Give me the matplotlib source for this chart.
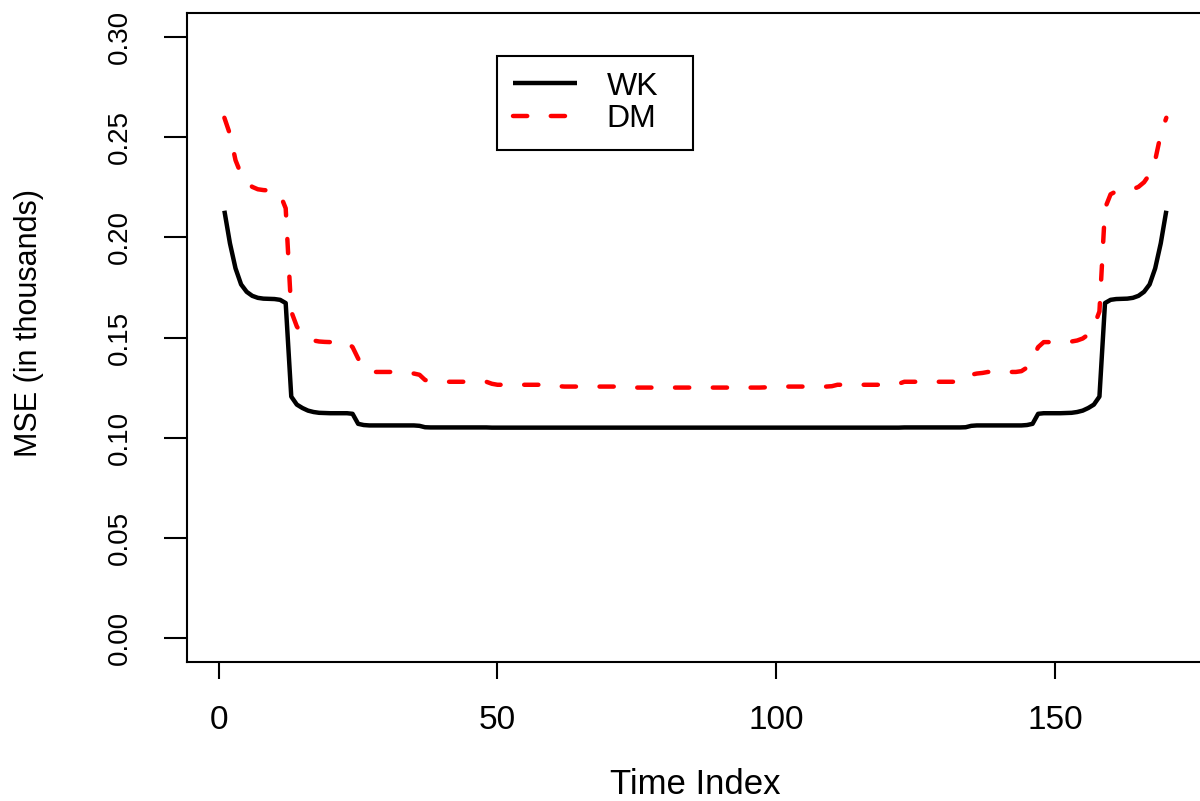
import matplotlib
matplotlib.use("Agg")
import matplotlib.pyplot as plt

plt.rcParams['font.family'] = ['Liberation Sans', 'DejaVu Sans']

# ---------------- data ----------------
time_index = list(range(1, 171))

wk = [
    0.2133, 0.1970, 0.1845, 0.1765, 0.1728, 0.1708, 0.1698, 0.1694, 0.1693, 0.1692, 0.1688, 0.1672,
    0.1205, 0.1165, 0.1148, 0.1135, 0.1128, 0.1124, 0.1123, 0.1122, 0.1122, 0.1122, 0.1122, 0.1119,
    0.1069, 0.1063, 0.1061, 0.1061, 0.1061, 0.1061, 0.1061, 0.1061, 0.1061, 0.1061, 0.1061, 0.1059,
    0.1052, 0.1051, 0.1051, 0.1051, 0.1051, 0.1051, 0.1051, 0.1051, 0.1051, 0.1051, 0.1051, 0.1051,
    0.1050, 0.1050, 0.1050, 0.1050, 0.1050, 0.1050, 0.1050, 0.1050, 0.1050, 0.1050, 0.1050, 0.1050,
    0.1050, 0.1050, 0.1050, 0.1050, 0.1050, 0.1050, 0.1050, 0.1050, 0.1050, 0.1050, 0.1050, 0.1050,
    0.1050, 0.1050, 0.1050, 0.1050, 0.1050, 0.1050, 0.1050, 0.1050, 0.1050, 0.1050, 0.1050, 0.1050, 0.1050,
    0.1050, 0.1050, 0.1050, 0.1050, 0.1050, 0.1050, 0.1050, 0.1050, 0.1050, 0.1050, 0.1050, 0.1050, 0.1050,
    0.1050, 0.1050, 0.1050, 0.1050, 0.1050, 0.1050, 0.1050, 0.1050, 0.1050, 0.1050, 0.1050, 0.1050,
    0.1050, 0.1050, 0.1050, 0.1050, 0.1050, 0.1050, 0.1050, 0.1050, 0.1050, 0.1050, 0.1050, 0.1050,
    0.1051, 0.1051, 0.1051, 0.1051, 0.1051, 0.1051, 0.1051, 0.1051, 0.1051, 0.1051, 0.1051, 0.1052,
    0.1059, 0.1061, 0.1061, 0.1061, 0.1061, 0.1061, 0.1061, 0.1061, 0.1061, 0.1061, 0.1063, 0.1069,
    0.1119, 0.1122, 0.1122, 0.1122, 0.1122, 0.1123, 0.1124, 0.1128, 0.1135, 0.1148, 0.1165, 0.1205,
    0.1672, 0.1688, 0.1692, 0.1693, 0.1694, 0.1698, 0.1708, 0.1728, 0.1765, 0.1845, 0.1970, 0.2133,
]

dm = [
    0.2597, 0.2515, 0.2385, 0.2315, 0.2275, 0.2252, 0.2240, 0.2236, 0.2234, 0.2230, 0.2215, 0.2145,
    0.1630, 0.1555, 0.1515, 0.1495, 0.1485, 0.1480, 0.1478, 0.1477, 0.1477, 0.1477, 0.1477, 0.1452,
    0.1395, 0.1350, 0.1332, 0.1328, 0.1328, 0.1328, 0.1328, 0.1328, 0.1328, 0.1323, 0.1320, 0.1314,
    0.1288, 0.1281, 0.1279, 0.1279, 0.1279, 0.1279, 0.1279, 0.1279, 0.1279, 0.1279, 0.1279, 0.1279,
    0.1269, 0.1264, 0.1264, 0.1264, 0.1264, 0.1264, 0.1264, 0.1264, 0.1264, 0.1264, 0.1264, 0.1264,
    0.1257, 0.1255, 0.1255, 0.1255, 0.1255, 0.1255, 0.1255, 0.1255, 0.1255, 0.1255, 0.1255, 0.1255,
    0.1251, 0.1250, 0.1250, 0.1250, 0.1250, 0.1250, 0.1250, 0.1250, 0.1250, 0.1250, 0.1250, 0.1250, 0.1250,
    0.1250, 0.1250, 0.1250, 0.1250, 0.1250, 0.1250, 0.1250, 0.1250, 0.1250, 0.1250, 0.1250, 0.1250, 0.1251,
    0.1255, 0.1255, 0.1255, 0.1255, 0.1255, 0.1255, 0.1255, 0.1255, 0.1255, 0.1255, 0.1255, 0.1257,
    0.1264, 0.1264, 0.1264, 0.1264, 0.1264, 0.1264, 0.1264, 0.1264, 0.1264, 0.1264, 0.1264, 0.1269,
    0.1279, 0.1279, 0.1279, 0.1279, 0.1279, 0.1279, 0.1279, 0.1279, 0.1279, 0.1279, 0.1281, 0.1288,
    0.1314, 0.1320, 0.1323, 0.1328, 0.1328, 0.1328, 0.1328, 0.1328, 0.1328, 0.1332, 0.1350, 0.1395,
    0.1452, 0.1477, 0.1477, 0.1477, 0.1477, 0.1478, 0.1480, 0.1485, 0.1495, 0.1515, 0.1555, 0.1630,
    0.2145, 0.2215, 0.2230, 0.2234, 0.2236, 0.2240, 0.2252, 0.2275, 0.2315, 0.2385, 0.2515, 0.2597,
]

series_labels = ["WK", "DM"]
x_ticks = [0, 50, 100, 150]
x_tick_labels = ["0", "50", "100", "150"]
y_ticks = [0.00, 0.05, 0.10, 0.15, 0.20, 0.25, 0.30]
y_tick_labels = ["0.00", "0.05", "0.10", "0.15", "0.20", "0.25", "0.30"]
x_label = "Time Index"
y_label = "MSE (in thousands)"

# ---------------- figure ----------------
W, H = 1200, 801
fig = plt.figure(figsize=(W / 100, H / 100), dpi=100)
ax = fig.add_axes([186.7 / W, (H - 662) / H, (1204 - 186.7) / W, (662 - 13) / H])

ax.plot(time_index, wk, color="black", lw=3.2, solid_joinstyle="round",
        solid_capstyle="butt", label=series_labels[0])
ax.plot(time_index, dm, color="red", lw=3.2, dashes=(3.2, 5.3),
        dash_capstyle="round", dash_joinstyle="round", label=series_labels[1])

ax.set_xlim(-5.76, 176.76)
ax.set_ylim(-0.012, 0.312)
ax.set_xticks(x_ticks)
ax.set_xticklabels(x_tick_labels)
ax.set_yticks(y_ticks)
ax.set_yticklabels(y_tick_labels, rotation=90, va="center")

ax.tick_params(axis="y", length=16.6, width=1.5, pad=22, labelsize=20, direction="out")
ax.tick_params(axis="x", length=12.2, width=1.5, pad=18.5, labelsize=24, direction="out")
for s in ax.spines.values():
    s.set_linewidth(1.5)

ax.set_xlabel(x_label, fontsize=25)
ax.xaxis.set_label_coords(0.5, -0.164)
ax.set_ylabel(y_label, fontsize=22)
ax.yaxis.set_label_coords(-0.140, 0.523)

leg_x0, leg_top, leg_w, leg_h = 496.7 / W, 1 - 55.7 / H, 196.3 / W, 94 / H
leg = ax.legend(loc="upper left", bbox_to_anchor=(leg_x0, leg_top - leg_h, leg_w, leg_h),
                bbox_transform=fig.transFigure, mode="expand", borderaxespad=0,
                fontsize=23, handlelength=2.0, handletextpad=0.94, borderpad=0.5,
                labelspacing=0.08, fancybox=False, framealpha=1, edgecolor="black")
leg.get_frame().set_linewidth(1.5)

fig.savefig("out.png", dpi=100)
